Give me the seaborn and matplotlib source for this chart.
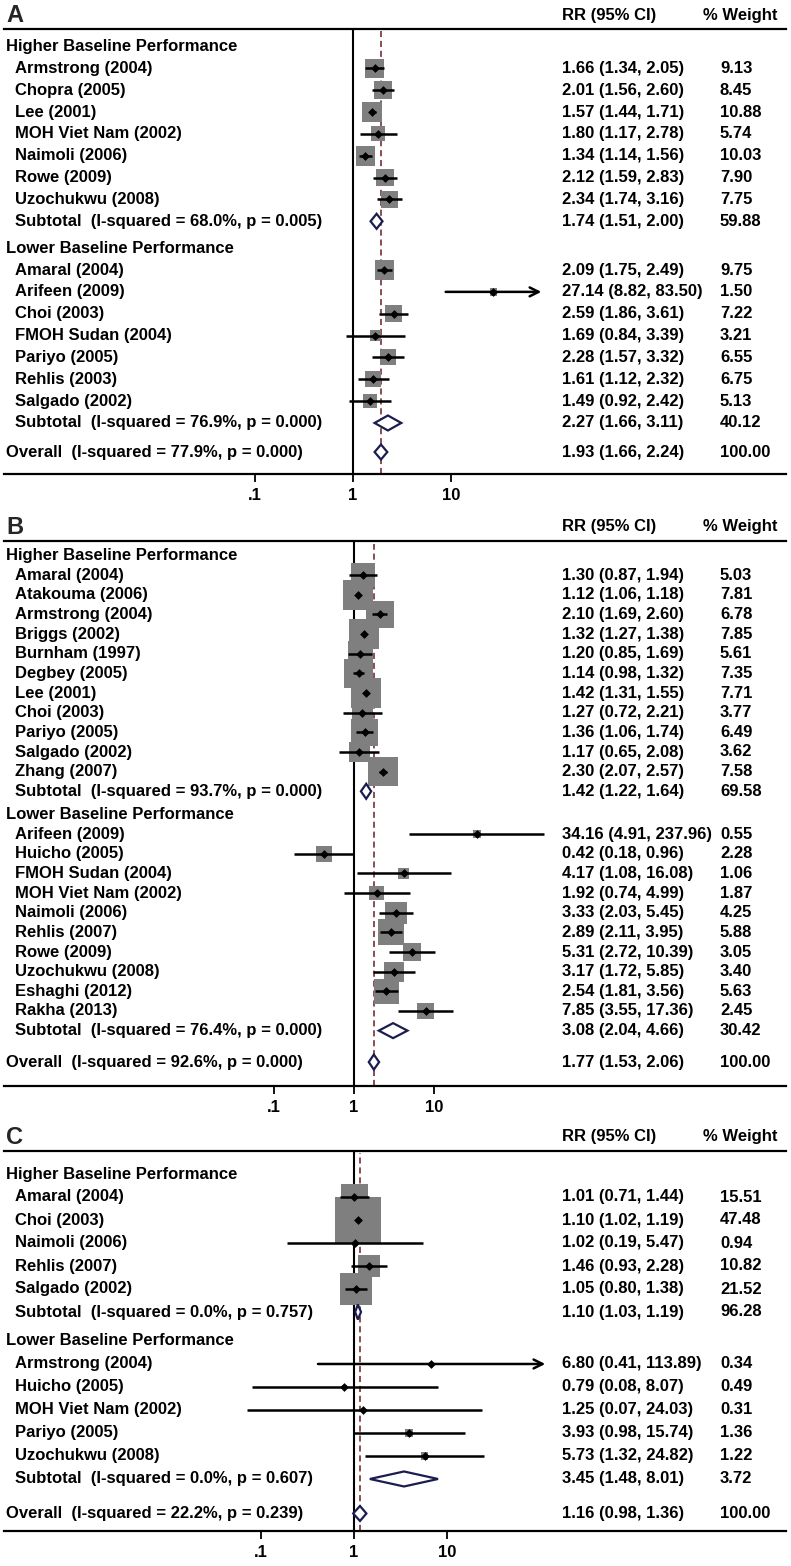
import matplotlib
matplotlib.use("Agg")
import matplotlib.pyplot as plt
import matplotlib.transforms as mtransforms
from matplotlib.patches import Polygon
from matplotlib.ticker import NullLocator
import numpy as np
import pandas as pd
import seaborn as sns

# ---------------- Panel A ----------------
a_hi_names = ["Armstrong (2004)", "Chopra (2005)", "Lee (2001)", "MOH Viet Nam (2002)",
              "Naimoli (2006)", "Rowe (2009)", "Uzochukwu (2008)"]
a_hi_rr = [1.66, 2.01, 1.57, 1.80, 1.34, 2.12, 2.34]
a_hi_lo = [1.34, 1.56, 1.44, 1.17, 1.14, 1.59, 1.74]
a_hi_up = [2.05, 2.60, 1.71, 2.78, 1.56, 2.83, 3.16]
a_hi_w = [9.13, 8.45, 10.88, 5.74, 10.03, 7.90, 7.75]
a_hi_sub = ["Subtotal  (I-squared = 68.0%, p = 0.005)", 1.74, 1.51, 2.00, 59.88]

a_lo_names = ["Amaral (2004)", "Arifeen (2009)", "Choi (2003)", "FMOH Sudan (2004)",
              "Pariyo (2005)", "Rehlis (2003)", "Salgado (2002)"]
a_lo_rr = [2.09, 27.14, 2.59, 1.69, 2.28, 1.61, 1.49]
a_lo_lo = [1.75, 8.82, 1.86, 0.84, 1.57, 1.12, 0.92]
a_lo_up = [2.49, 83.50, 3.61, 3.39, 3.32, 2.32, 2.42]
a_lo_w = [9.75, 1.50, 7.22, 3.21, 6.55, 6.75, 5.13]
a_lo_sub = ["Subtotal  (I-squared = 76.9%, p = 0.000)", 2.27, 1.66, 3.11, 40.12]

a_overall = ["Overall  (I-squared = 77.9%, p = 0.000)", 1.93, 1.66, 2.24, 100.00]
a_arrows = ["Arifeen (2009)"]

# ---------------- Panel B ----------------
b_hi_names = ["Amaral (2004)", "Atakouma (2006)", "Armstrong (2004)", "Briggs (2002)",
              "Burnham (1997)", "Degbey (2005)", "Lee (2001)", "Choi (2003)",
              "Pariyo (2005)", "Salgado (2002)", "Zhang (2007)"]
b_hi_rr = [1.30, 1.12, 2.10, 1.32, 1.20, 1.14, 1.42, 1.27, 1.36, 1.17, 2.30]
b_hi_lo = [0.87, 1.06, 1.69, 1.27, 0.85, 0.98, 1.31, 0.72, 1.06, 0.65, 2.07]
b_hi_up = [1.94, 1.18, 2.60, 1.38, 1.69, 1.32, 1.55, 2.21, 1.74, 2.08, 2.57]
b_hi_w = [5.03, 7.81, 6.78, 7.85, 5.61, 7.35, 7.71, 3.77, 6.49, 3.62, 7.58]
b_hi_sub = ["Subtotal  (I-squared = 93.7%, p = 0.000)", 1.42, 1.22, 1.64, 69.58]

b_lo_names = ["Arifeen (2009)", "Huicho (2005)", "FMOH Sudan (2004)", "MOH Viet Nam (2002)",
              "Naimoli (2006)", "Rehlis (2007)", "Rowe (2009)", "Uzochukwu (2008)",
              "Eshaghi (2012)", "Rakha (2013)"]
b_lo_rr = [34.16, 0.42, 4.17, 1.92, 3.33, 2.89, 5.31, 3.17, 2.54, 7.85]
b_lo_lo = [4.91, 0.18, 1.08, 0.74, 2.03, 2.11, 2.72, 1.72, 1.81, 3.55]
b_lo_up = [237.96, 0.96, 16.08, 4.99, 5.45, 3.95, 10.39, 5.85, 3.56, 17.36]
b_lo_w = [0.55, 2.28, 1.06, 1.87, 4.25, 5.88, 3.05, 3.40, 5.63, 2.45]
b_lo_sub = ["Subtotal  (I-squared = 76.4%, p = 0.000)", 3.08, 2.04, 4.66, 30.42]

b_overall = ["Overall  (I-squared = 92.6%, p = 0.000)", 1.77, 1.53, 2.06, 100.00]
b_arrows = []

# ---------------- Panel C ----------------
c_hi_names = ["Amaral (2004)", "Choi (2003)", "Naimoli (2006)", "Rehlis (2007)", "Salgado (2002)"]
c_hi_rr = [1.01, 1.10, 1.02, 1.46, 1.05]
c_hi_lo = [0.71, 1.02, 0.19, 0.93, 0.80]
c_hi_up = [1.44, 1.19, 5.47, 2.28, 1.38]
c_hi_w = [15.51, 47.48, 0.94, 10.82, 21.52]
c_hi_sub = ["Subtotal  (I-squared = 0.0%, p = 0.757)", 1.10, 1.03, 1.19, 96.28]

c_lo_names = ["Armstrong (2004)", "Huicho (2005)", "MOH Viet Nam (2002)", "Pariyo (2005)",
              "Uzochukwu (2008)"]
c_lo_rr = [6.80, 0.79, 1.25, 3.93, 5.73]
c_lo_lo = [0.41, 0.08, 0.07, 0.98, 1.32]
c_lo_up = [113.89, 8.07, 24.03, 15.74, 24.82]
c_lo_w = [0.34, 0.49, 0.31, 1.36, 1.22]
c_lo_sub = ["Subtotal  (I-squared = 0.0%, p = 0.607)", 3.45, 1.48, 8.01, 3.72]

c_overall = ["Overall  (I-squared = 22.2%, p = 0.239)", 1.16, 0.98, 1.36, 100.00]
c_arrows = ["Armstrong (2004)"]

tick_vals = [0.1, 1, 10]
tick_labels = [".1", "1", "10"]
group_titles = ["Higher Baseline Performance", "Lower Baseline Performance"]

sns.set_theme(style="white")
plt.rcParams["font.family"] = ["Liberation Sans", "DejaVu Sans"]
plt.rcParams["font.weight"] = "bold"

W, H = 791, 1566
X0, X1 = 4, 786
FS = 12
BOX = "#7f7f7f"
NAVY = "#1b1d4e"
DASH = "#6b1e24"

fig = plt.figure(figsize=(W / 100, H / 100), dpi=100)


def make_rows(hi, low, overall, g1, g2):
    studies, pooled, heads = [], [], []
    y = 0.0
    for title, grp in zip(group_titles, (hi, low)):
        heads.append((title, y))
        names, rr, lo, up, w, sub = grp
        for i in range(len(names)):
            y += 1
            studies.append(dict(name=names[i], rr=rr[i], lo=lo[i], up=up[i], w=w[i], y=y))
        y += 1
        pooled.append(dict(name=sub[0], rr=sub[1], lo=sub[2], up=sub[3], w=sub[4], y=y, x=15))
        y += 1 + g1
    y = pooled[-1]["y"] + 1 + g2
    pooled.append(dict(name=overall[0], rr=overall[1], lo=overall[2], up=overall[3],
                       w=overall[4], y=y, x=6))
    return pd.DataFrame(studies), pd.DataFrame(pooled), heads


def draw_panel(letter, hi, low, overall, arrows, lay):
    st, pl, heads = make_rows(hi, low, overall, lay["g1"], lay["g2"])
    r = lay["r"]
    top, bot = lay["top"], lay["bottom"]
    ax = fig.add_axes([X0 / W, 1 - bot / H, (X1 - X0) / W, (bot - top) / H])
    ax.set_xscale("log")
    ax.set_xlim(10 ** ((X0 - lay["p1"]) / lay["d"]), 10 ** ((X1 - lay["p1"]) / lay["d"]))

    def y_of(px):
        return (px - lay["header"]) / r

    ax.set_ylim(y_of(bot), y_of(top))

    # reference line at 1 and dashed line at the overall estimate
    ax.axvline(1, color="black", lw=1.5, zorder=1)
    ax.axvline(overall[1], ymax=0.995, color=DASH, lw=1.1, ls=(0, (4, 2.5)), zorder=1)

    # weight boxes (side ~ sqrt of weight)
    sizes = (lay["k"] * np.sqrt(st["w"].values) * 0.72) ** 2
    sns.scatterplot(data=st, x="rr", y="y", marker="s", s=sizes, color=BOX,
                    linewidth=0, legend=False, ax=ax, zorder=2)

    plain = st[~st["name"].isin(arrows)]
    ax.hlines(plain["y"], plain["lo"], plain["up"], color="black", lw=1.8, zorder=3)
    for _, row in st[st["name"].isin(arrows)].iterrows():
        ax.annotate("", xy=(row.up, row.y), xytext=(row.lo, row.y),
                    arrowprops=dict(arrowstyle="->", lw=1.8, color="black",
                                    mutation_scale=16, shrinkA=0, shrinkB=0),
                    zorder=3)
    sns.scatterplot(data=st, x="rr", y="y", marker="D", s=20, color="black",
                    linewidth=0, legend=False, ax=ax, zorder=4)

    # pooled diamonds
    h = 7.5 / r
    for _, row in pl.iterrows():
        ax.add_patch(Polygon([(row.lo, row.y), (row.rr, row.y - h), (row.up, row.y),
                              (row.rr, row.y + h)], closed=True, facecolor="white",
                             edgecolor=NAVY, lw=1.6, zorder=4))

    tr = mtransforms.blended_transform_factory(fig.transFigure, ax.transData)
    kw = dict(transform=tr, va="center", ha="left", fontsize=FS, fontweight="bold",
              color="black")
    for label, y in heads:
        ax.text(6 / W, y, label, **kw)
    for _, row in st.iterrows():
        ax.text(15 / W, row.y, row["name"], **kw)
        ax.text(562 / W, row.y, f"{row.rr:.2f} ({row.lo:.2f}, {row.up:.2f})", **kw)
        ax.text(720 / W, row.y, f"{row.w:.2f}", **kw)
    for _, row in pl.iterrows():
        ax.text(row.x / W, row.y, row["name"], **kw)
        ax.text(562 / W, row.y, f"{row.rr:.2f} ({row.lo:.2f}, {row.up:.2f})", **kw)
        ax.text(720 / W, row.y, f"{row.w:.2f}", **kw)

    ty = y_of(lay["title"])
    ax.text(6 / W, ty, letter, transform=tr, va="center", ha="left", fontsize=17,
            fontweight="bold")
    ax.text(562 / W, ty, "RR (95% CI)", **kw)
    ax.text(703 / W, ty, "% Weight", **kw)

    for side in ["left", "right"]:
        ax.spines[side].set_visible(False)
    for side in ["top", "bottom"]:
        ax.spines[side].set_linewidth(1.6)
        ax.spines[side].set_color("black")
    ax.set_yticks([])
    ax.set_xticks(tick_vals)
    ax.set_xticklabels(tick_labels, fontweight="bold", fontsize=FS)
    ax.xaxis.set_minor_locator(NullLocator())
    ax.tick_params(axis="x", which="major", direction="out", length=6, width=1.3,
                   pad=4, bottom=True, colors="black")
    ax.set_xlabel("")
    ax.set_ylabel("")
    ax.set_facecolor("white")


layout_a = dict(top=29, header=46.5, r=21.85, g1=0.23, g2=0.33, bottom=474, p1=353, d=98, k=6.2, title=15)
layout_b = dict(top=541, header=555.5, r=19.65, g1=0.18, g2=0.6, bottom=1086, p1=354, d=80, k=10.7, title=527)
layout_c = dict(top=1151, header=1174, r=23.0, g1=0.26, g2=0.5, bottom=1531, p1=354, d=93, k=6.7, title=1137)

draw_panel("A",
           (a_hi_names, a_hi_rr, a_hi_lo, a_hi_up, a_hi_w, a_hi_sub),
           (a_lo_names, a_lo_rr, a_lo_lo, a_lo_up, a_lo_w, a_lo_sub),
           a_overall, a_arrows, layout_a)
draw_panel("B",
           (b_hi_names, b_hi_rr, b_hi_lo, b_hi_up, b_hi_w, b_hi_sub),
           (b_lo_names, b_lo_rr, b_lo_lo, b_lo_up, b_lo_w, b_lo_sub),
           b_overall, b_arrows, layout_b)
draw_panel("C",
           (c_hi_names, c_hi_rr, c_hi_lo, c_hi_up, c_hi_w, c_hi_sub),
           (c_lo_names, c_lo_rr, c_lo_lo, c_lo_up, c_lo_w, c_lo_sub),
           c_overall, c_arrows, layout_c)

fig.savefig("out.png", dpi=100, facecolor="white")
